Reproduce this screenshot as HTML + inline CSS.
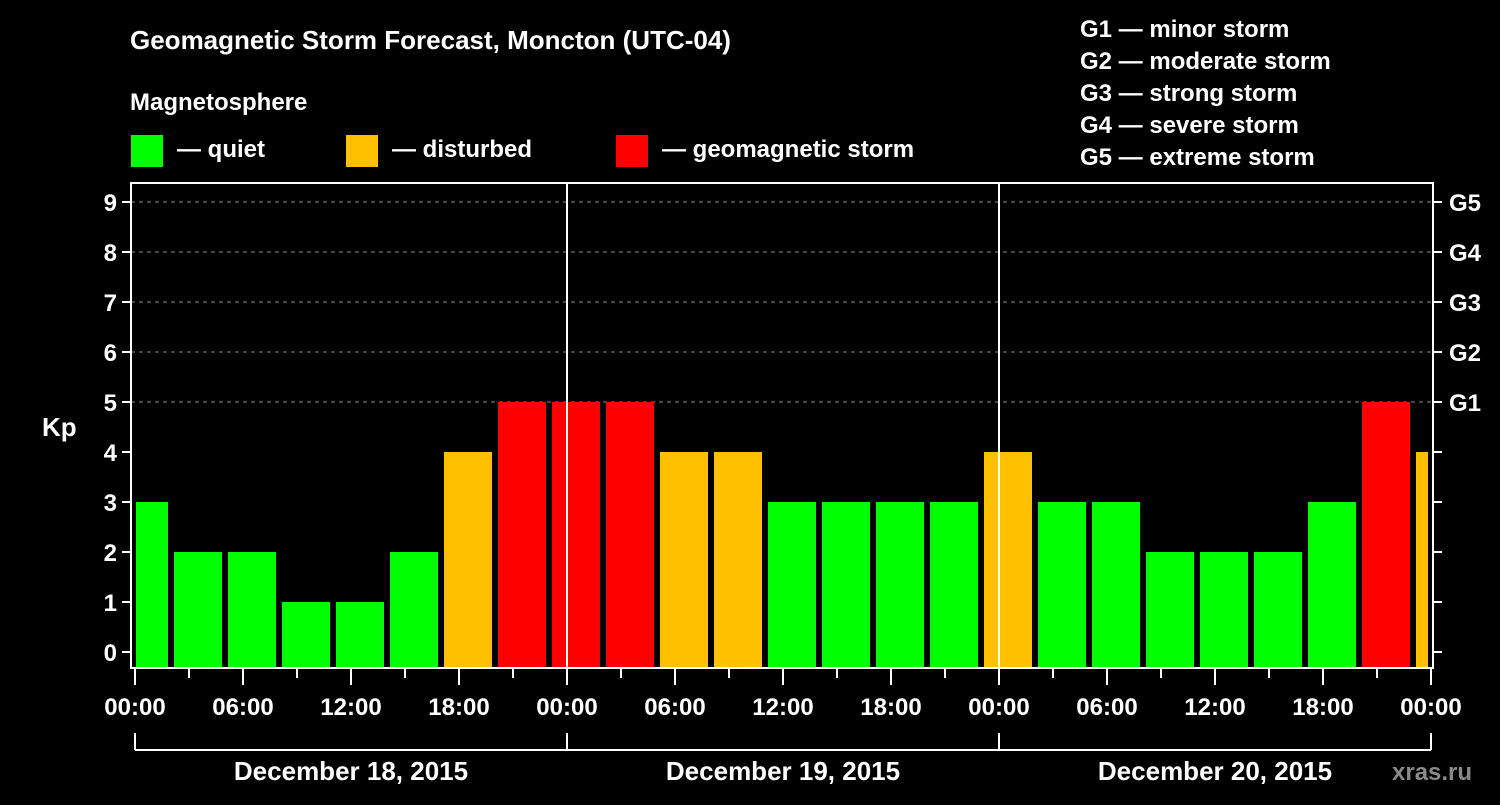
<!DOCTYPE html>
<html><head><meta charset="utf-8"><style>
body{margin:0;background:#000;width:1500px;height:800px;overflow:hidden}
svg text{font-family:"Liberation Sans",Arial,sans-serif;font-weight:bold;fill:#fff}
</style></head><body>
<svg id="chart" width="1500" height="800" viewBox="0 0 1500 800" xmlns="http://www.w3.org/2000/svg">
<rect width="1500" height="800" fill="#000"/>
<text x="130" y="49" font-size="26">Geomagnetic Storm Forecast, Moncton (UTC-04)</text>
<text x="130" y="110" font-size="24">Magnetosphere</text>
<g><rect x="131" y="135" width="32" height="32" fill="#00ff00"/><text x="177" y="157" font-size="24">— quiet</text></g>
<g><rect x="346" y="135" width="32" height="32" fill="#ffc000"/><text x="392" y="157" font-size="24">— disturbed</text></g>
<g><rect x="616" y="135" width="32" height="32" fill="#ff0000"/><text x="662" y="157" font-size="24">— geomagnetic storm</text></g>
<g font-size="24">
<text x="1080" y="37">G1 — minor storm</text>
<text x="1080" y="69">G2 — moderate storm</text>
<text x="1080" y="101">G3 — strong storm</text>
<text x="1080" y="133">G4 — severe storm</text>
<text x="1080" y="165">G5 — extreme storm</text>
</g>
<text x="42" y="436" font-size="26">Kp</text>
<text x="1392" y="780" font-size="24" fill="#888" style="fill:#8a8a8a">xras.ru</text>
<g id="grid"></g><g id="bars"></g><g id="axes"></g>
</svg>
<script>
const kpValues=[3,2,2,1,1,2,4,5,5,5,4,4,3,3,3,3,4,3,3,2,2,2,3,5,4];
const yTicks=[0,1,2,3,4,5,6,7,8,9];
const gLabels=["G1","G2","G3","G4","G5"];
const xTickLabels=["00:00","06:00","12:00","18:00","00:00","06:00","12:00","18:00","00:00","06:00","12:00","18:00","00:00"];
const dayLabels=["December 18, 2015","December 19, 2015","December 20, 2015"];
const barStartHour=0.5, barStepHours=3;

const L=131,R=1433,T=183,B=668;
const x=h=>135+h*18;
const y=v=>652-v*50;
const NS="http://www.w3.org/2000/svg";
function mk(tag,attrs,parent){const e=document.createElementNS(NS,tag);for(const k in attrs)e.setAttribute(k,attrs[k]);parent.appendChild(e);return e;}
const grid=document.getElementById('grid'),bars=document.getElementById('bars'),axes=document.getElementById('axes');
const col=v=>v>=5?'#ff0000':(v>=4?'#ffc000':'#00ff00');

for(let v=5;v<=9;v++){
  const l=mk('line',{x1:L,x2:R,y1:y(v),y2:y(v),stroke:'#888','stroke-width':1,'stroke-dasharray':'4,4'},grid);
  
  
}
kpValues.forEach((v,i)=>{
  const c=x(barStartHour+i*barStepHours);
  const x0=Math.max(c-24,L+5),x1=Math.min(c+24,R-5);
  const r=mk('rect',{x:x0,y:y(v),width:x1-x0,height:B-y(v),fill:col(v)},bars);
  
  
});
// day separators
[1,2].forEach(d=>{
  const l=mk('line',{x1:x(d*24),x2:x(d*24),y1:T,y2:B,stroke:'#fff','stroke-width':2},axes);
  
  
});
mk('rect',{x:L,y:T,width:R-L,height:B-T,fill:'none',stroke:'#fff','stroke-width':2},axes);
yTicks.forEach(v=>{
  mk('line',{x1:L-9,x2:L,y1:y(v),y2:y(v),stroke:'#fff','stroke-width':2},axes);
  mk('line',{x1:R,x2:R+9,y1:y(v),y2:y(v),stroke:'#fff','stroke-width':2},axes);
  const t=mk('text',{x:L-14,y:y(v)+9,'font-size':24,'text-anchor':'end'},axes);t.textContent=v;
  
  
});
gLabels.forEach((g,i)=>{
  const t=mk('text',{x:R+16,y:y(5+i)+9,'font-size':24},axes);t.textContent=g;
  
  
});
for(let h=0;h<=72;h+=3){
  const major=h%6===0;
  mk('line',{x1:x(h),x2:x(h),y1:B,y2:B+(major?17:10),stroke:'#fff','stroke-width':2},axes);
}
xTickLabels.forEach((s,i)=>{
  const t=mk('text',{x:x(i*6),y:715,'font-size':24,'text-anchor':'middle'},axes);t.textContent=s;
  
  
});
mk('line',{x1:x(0),x2:x(72),y1:750,y2:750,stroke:'#fff','stroke-width':2},axes);
for(let d=0;d<=3;d++) mk('line',{x1:x(d*24),x2:x(d*24),y1:733,y2:750,stroke:'#fff','stroke-width':2},axes);
dayLabels.forEach((s,i)=>{
  const t=mk('text',{x:x(i*24+12),y:780,'font-size':26,'text-anchor':'middle'},axes);t.textContent=s;
  
  
});
</script>
</body></html>
